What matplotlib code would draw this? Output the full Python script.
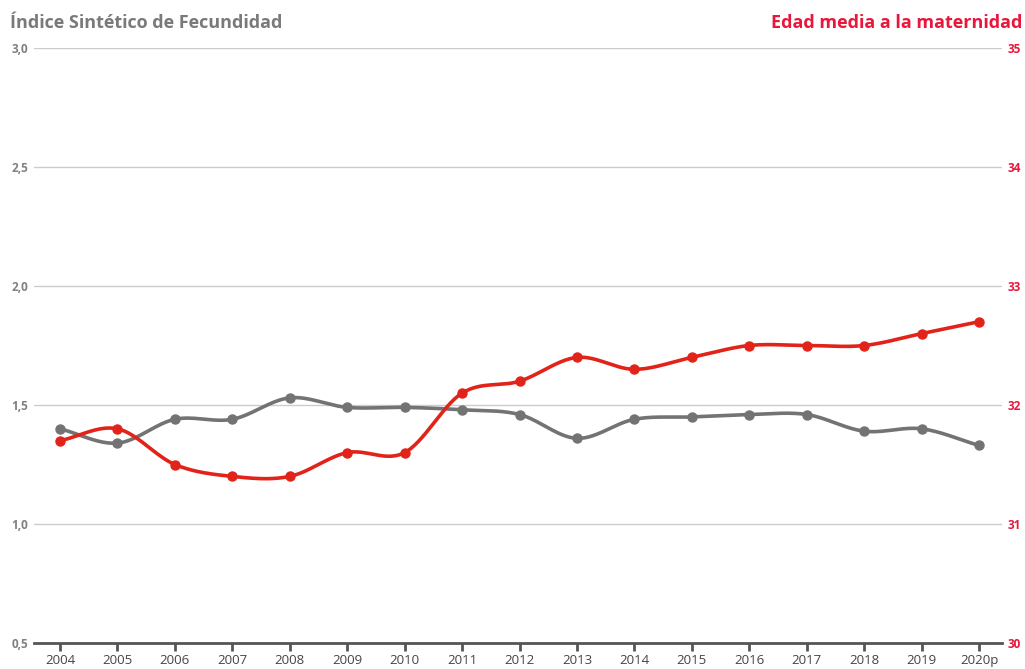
import numpy as np
import matplotlib.pyplot as plt

years = ["2004", "2005", "2006", "2007", "2008", "2009", "2010", "2011", "2012",
         "2013", "2014", "2015", "2016", "2017", "2018", "2019", "2020p"]
isf = [1.40, 1.34, 1.44, 1.44, 1.53, 1.49, 1.49, 1.48, 1.46,
       1.36, 1.44, 1.45, 1.46, 1.46, 1.39, 1.40, 1.33]
edad = [31.7, 31.8, 31.5, 31.4, 31.4, 31.6, 31.6, 32.1, 32.2,
        32.4, 32.3, 32.4, 32.5, 32.5, 32.5, 32.6, 32.7]

GRAY = "#737373"
RED = "#e2231a"
RED_TXT = "#e8173c"

def catmull(x, y, n=30):
    # smooth curve through the points (catmull-rom)
    x = np.asarray(x, float); y = np.asarray(y, float)
    px = np.concatenate([[2*x[0]-x[1]], x, [2*x[-1]-x[-2]]])
    py = np.concatenate([[2*y[0]-y[1]], y, [2*y[-1]-y[-2]]])
    xs, ys = [], []
    t = np.linspace(0, 1, n, endpoint=False)
    for i in range(1, len(px)-2):
        for arr, out in ((px, xs), (py, ys)):
            p0, p1, p2, p3 = arr[i-1], arr[i], arr[i+1], arr[i+2]
            out.extend(0.5*((2*p1) + (-p0+p2)*t + (2*p0-5*p1+4*p2-p3)*t**2
                            + (-p0+3*p1-3*p2+p3)*t**3))
    xs.append(x[-1]); ys.append(y[-1])
    return np.array(xs), np.array(ys)

plt.rcParams['font.family'] = ['Open Sans', 'DejaVu Sans']

fig = plt.figure(figsize=(10.25, 6.69), dpi=100)
ax = fig.add_axes([34/1025, 1-643/669, (1002-34)/1025, (643-48)/669])
ax2 = ax.twinx()

idx = np.arange(len(years))
x0 = -26/57.44
x1 = (1002-60)/57.44

ax.set_ylim(0.5, 3.0)
ax2.set_ylim(30, 35)
ax.set_xlim(x0, x1)

for v in [1.0, 1.5, 2.0, 2.5, 3.0]:
    ax.axhline(v, color="#cccccc", lw=1, zorder=0)

sx, sy = catmull(idx, isf)
ax.plot(sx, sy, color=GRAY, lw=2.6, zorder=3)
ax.plot(idx, isf, 'o', color=GRAY, ms=6.5, zorder=4)

rx, ry = catmull(idx, edad)
ax2.plot(rx, ry, color=RED, lw=2.6, zorder=3)
ax2.plot(idx, edad, 'o', color=RED, ms=6.5, zorder=4)

for a in (ax, ax2):
    for s in a.spines.values():
        s.set_visible(False)
ax.spines['bottom'].set_visible(True)
ax.spines['bottom'].set_color("#555555")
ax.spines['bottom'].set_linewidth(2)

ax.set_xticks(idx)
ax.set_xticklabels(years)
ax.tick_params(axis='x', length=6, width=2, color="#555555", labelsize=9.5,
               labelcolor="#444444", pad=2)

ax.set_yticks([0.5, 1.0, 1.5, 2.0, 2.5, 3.0])
ax.set_yticklabels(["0,5", "1,0", "1,5", "2,0", "2,5", "3,0"])
ax.tick_params(axis='y', length=0, labelsize=8.5, labelcolor="#808080", pad=4)
for lb in ax.get_yticklabels():
    lb.set_fontweight('bold')

ax2.set_yticks([30, 31, 32, 33, 34, 35])
ax2.set_yticklabels(["30", "31", "32", "33", "34", "35"])
ax2.tick_params(axis='y', length=0, labelsize=8.5, labelcolor=RED_TXT, pad=4)
for lb in ax2.get_yticklabels():
    lb.set_fontweight('bold')

fig.text(10/1025, 1-23/669, "Índice Sintético de Fecundidad", color="#7a7a7a",
         fontsize=13, fontweight='bold', ha='left', va='center')
fig.text(1022/1025, 1-23/669, "Edad media a la maternidad", color=RED_TXT,
         fontsize=13, fontweight='bold', ha='right', va='center')

fig.savefig("out.png", dpi=100)
